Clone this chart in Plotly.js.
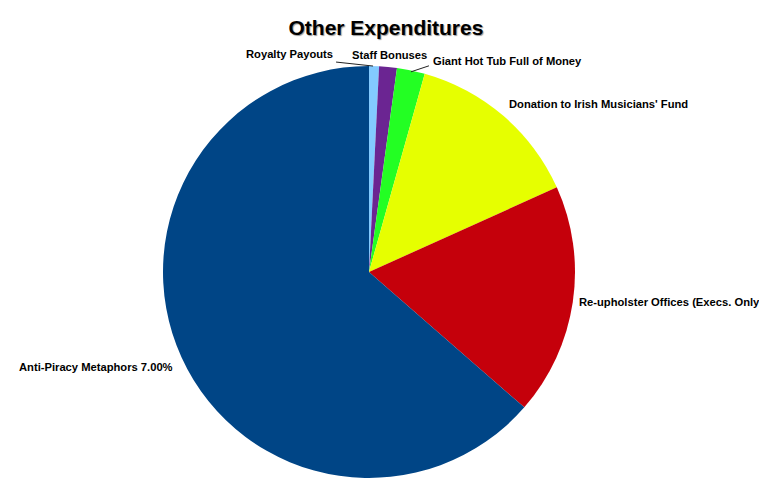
<!DOCTYPE html>
<html><head><meta charset="utf-8">
<script src="https://cdn.plot.ly/plotly-3.0.1.min.js"></script>
<style>html,body{margin:0;padding:0;background:#fff}</style>
</head><body>
<div id="chart" style="width:776px;height:496px"></div>
<script>
const labels = ["Royalty Payouts","Staff Bonuses","Giant Hot Tub Full of Money","Donation to Irish Musicians' Fund","Re-upholster Offices (Execs. Only)","Anti-Piracy Metaphors"];
const texts = ["Royalty Payouts","Staff Bonuses","Giant Hot Tub Full of Money","Donation to Irish Musicians' Fund","Re-upholster Offices (Execs. Only)","Anti-Piracy Metaphors 7.00%"];
const values = [0.78, 1.39, 2.19, 13.9, 18.15, 63.59];
const colors = ["#83caff","#6b2592","#23ff23","#e6ff00","#c5000b","#004586"];

// layout geometry (pixels)
const W = 776, H = 496, M = {l: 0, r: 38, t: 66, b: 18};
const PW = W - M.l - M.r, PH = H - M.t - M.b;
const R = Math.min(PW, PH) / 2;
const CX = M.l + PW / 2, CY = M.t + PH / 2;
const toPX = px => (px - M.l) / PW;
const toPY = py => 1 - (py - M.t) / PH;

// label placement styles: anchor, pixel shift, optional leader line offsets, optional clip width
const labelStyle = [
  {xanchor: 'right', dx: -39, dy: -12, line: [[-1, 0], [-38, -4]]},
  {xanchor: 'center', dx: 1.5, dy: -12},
  {xanchor: 'left', dx: 20, dy: -9, line: [[0, 1.5], [18, -4.5]]},
  {xanchor: 'left', dx: 3.6, dy: -12},
  {xanchor: 'left', dx: 4, dy: 0, width: 180},
  {xanchor: 'right', dx: -6.5, dy: 10}
];

const total = values.reduce((a, b) => a + b, 0);
let cum = 0;
const annotations = [], shapes = [];
values.forEach((v, i) => {
  const mid = (cum + v / 2) / total * 2 * Math.PI;
  cum += v;
  const ex = CX + R * Math.sin(mid), ey = CY - R * Math.cos(mid);
  const s = labelStyle[i];
  const a = {
    x: toPX(ex), y: toPY(ey), xref: 'paper', yref: 'paper',
    text: texts[i], showarrow: false,
    xanchor: s.xanchor, yanchor: 'middle',
    xshift: s.dx, yshift: -s.dy,
    font: {family: 'Liberation Sans, Arial, sans-serif', size: 11.2, color: '#000', weight: 'bold'}
  };
  if (s.width) { a.width = s.width; a.align = 'left'; }
  annotations.push(a);
  if (s.line) {
    shapes.push({
      type: 'line', xref: 'paper', yref: 'paper',
      x0: toPX(ex + s.line[0][0]), y0: toPY(ey + s.line[0][1]),
      x1: toPX(ex + s.line[1][0]), y1: toPY(ey + s.line[1][1]),
      line: {color: '#222', width: 1}
    });
  }
});

Plotly.newPlot('chart', [{
  type: 'pie',
  labels: labels,
  values: values,
  textinfo: 'none',
  sort: false,
  direction: 'clockwise',
  rotation: 0,
  marker: {colors: colors, line: {width: 0}},
  hoverinfo: 'label+percent',
  automargin: false
}], {
  width: W, height: H,
  margin: M,
  showlegend: false,
  paper_bgcolor: '#fff',
  annotations: annotations,
  shapes: shapes,
  title: {text: 'Other Expenditures', x: 0.523, xref: 'paper', xanchor: 'center', y: 0.945, yanchor: 'middle',
    font: {family: 'Liberation Sans, Arial, sans-serif', size: 21, color: '#000', weight: 'bold', shadow: '1px 1px 1px #999'}}
}, {displayModeBar: false});
</script>
</body></html>
